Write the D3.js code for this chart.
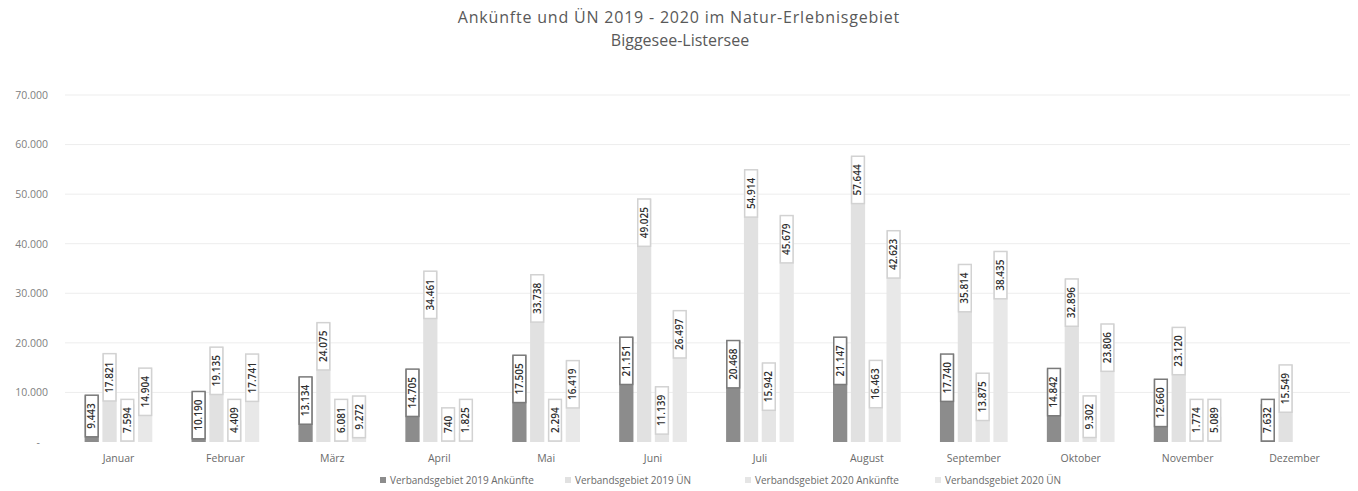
<!DOCTYPE html>
<html>
<head>
<meta charset="utf-8">
<script src="https://cdn.jsdelivr.net/npm/d3@7"></script>
<style>
  body { margin: 0; background: #fff; }
  svg { display: block; }
</style>
</head>
<body>
<svg id="chart"></svg>
<script>
(function () {
  var WIDTH = 1358
  var HEIGHT = 491
  var FONT = '"Open Sans", "Noto Sans", sans-serif'

  // Data
  var months = ['Januar', 'Februar', 'März', 'April', 'Mai', 'Juni', 'Juli', 'August', 'September', 'Oktober', 'November', 'Dezember']
  var seriesNames = ['Verbandsgebiet 2019 Ankünfte', 'Verbandsgebiet 2019 ÜN', 'Verbandsgebiet 2020 Ankünfte', 'Verbandsgebiet 2020 ÜN']
  var ank2019 = [9443, 10190, 13134, 14705, 17505, 21151, 20468, 21147, 17740, 14842, 12660, 7632]
  var un2019 = [17821, 19135, 24075, 34461, 33738, 49025, 54914, 57644, 35814, 32896, 23120, 15549]
  var ank2020 = [7594, 4409, 6081, 740, 2294, 11139, 15942, 16463, 13875, 9302, 1774, null]
  var un2020 = [14904, 17741, 9272, 1825, 16419, 26497, 45679, 42623, 38435, 23806, 5089, null]
  var yTicks = [0, 10000, 20000, 30000, 40000, 50000, 60000, 70000]

  var COLORS = ['#8c8c8c', '#e1e1e1', '#e5e5e5', '#e8e8e8']
  var LEGEND_X = [380, 565, 745, 935]

  var svg = d3.select('#chart').attr('width', WIDTH).attr('height', HEIGHT)
  var locale = d3.formatLocale({ decimal: ',', thousands: '.', grouping: [3], currency: ['', ''] })
  var fmt = locale.format(',d')

  var x0 = d3.scaleBand().domain(months).range([65, 1348]).paddingInner(0.3).paddingOuter(0.15)
  var x1 = d3.scaleBand().domain(d3.range(4)).range([0, x0.bandwidth()]).padding(0.2)
  var y = d3.scaleLinear().domain([0, 70000]).range([442, 95])

  // Title
  var title = svg.append('text')
    .attr('text-anchor', 'middle')
    .style('font-family', FONT)
    .style('font-size', '16px')
    .style('fill', '#595959')
  title.append('tspan').attr('x', 679).attr('y', 23)
    .style('letter-spacing', '0.8px')
    .text('Ankünfte und ÜN 2019 - 2020 im Natur-Erlebnisgebiet')
  title.append('tspan').attr('x', 680).attr('y', 46).text('Biggesee-Listersee')

  // Grid
  svg.append('g')
    .selectAll('line')
    .data(yTicks.slice(1))
    .enter().append('line')
    .attr('x1', 65).attr('x2', 1350)
    .attr('y1', function (d) { return y(d) })
    .attr('y2', function (d) { return y(d) })
    .attr('stroke', '#ededed')
    .attr('stroke-width', 1)

  // Y axis
  var yAxis = d3.axisLeft(y)
    .tickValues(yTicks)
    .tickSize(0)
    .tickPadding(0)
    .tickFormat(function (d) { return d ? fmt(d) : '-' })
  var yg = svg.append('g').attr('transform', 'translate(48,0)').call(yAxis)
  yg.select('.domain').remove()
  yg.selectAll('text')
    .style('font-family', FONT)
    .style('font-size', '10.5px')
    .style('fill', '#808080')
    .attr('x', function (d) { return d ? 0 : -8 })

  // X axis
  var xAxis = d3.axisBottom(x0).tickSize(0).tickPadding(0)
  var xg = svg.append('g').attr('transform', 'translate(0,455)').call(xAxis)
  xg.select('.domain').remove()
  xg.selectAll('text')
    .style('font-family', FONT)
    .style('font-size', '10.5px')
    .style('fill', '#6a6a6a')

  // Bars
  var rows = months.map(function (m, i) {
    return { month: m, values: [ank2019[i], un2019[i], ank2020[i], un2020[i]] }
  })
  var cells = []
  rows.forEach(function (r) {
    r.values.forEach(function (v, k) {
      if (v != null) cells.push({ month: r.month, k: k, value: v })
    })
  })

  var groups = svg.append('g').selectAll('g')
    .data(cells)
    .enter().append('g')
    .attr('transform', function (d) { return 'translate(' + (x0(d.month) + x1(d.k)) + ',0)' })

  groups.append('rect')
    .attr('x', 0)
    .attr('width', x1.bandwidth())
    .attr('y', function (d) { return y(d.value) })
    .attr('height', function (d) { return y(0) - y(d.value) })
    .attr('fill', function (d) { return COLORS[d.k] })

  // Value labels: white box at the inside end of the bar
  var PAD = 8
  groups.each(function (d) {
    var g = d3.select(this)
    var bw = x1.bandwidth()
    var box = g.append('rect')
    var txt = g.append('text')
      .text(fmt(d.value))
      .style('font-family', FONT)
      .style('font-size', '10px')
      .style('font-weight', 600)
      .style('fill', '#2e2e2e')
      .attr('text-anchor', 'end')
      .attr('dy', '0.35em')
    var len = txt.node().getComputedTextLength() + 2 * PAD
    var top = Math.min(y(d.value), y(0) - len - 1)
    box.attr('x', 0.75).attr('width', bw - 1.5)
      .attr('y', top).attr('height', len)
      .attr('fill', '#fff')
      .attr('stroke', d.k === 0 ? '#7a7a7a' : '#d2d2d2')
      .attr('stroke-width', 1.5)
    txt.attr('transform', 'translate(' + bw / 2 + ',' + (top + PAD) + ') rotate(-90)')
  })

  // Legend
  var items = svg.append('g')
    .selectAll('g')
    .data(seriesNames)
    .enter().append('g')
    .attr('transform', function (d, i) { return 'translate(' + LEGEND_X[i] + ',481)' })
  items.append('rect')
    .attr('width', 6).attr('height', 6).attr('y', -4)
    .attr('fill', function (d, i) { return COLORS[i] })
  items.append('text')
    .attr('x', 10).attr('dy', '0.3em')
    .text(function (d) { return d })
    .style('font-family', FONT)
    .style('font-size', '10px')
    .style('fill', '#6a6a6a')
})()
</script>
</body>
</html>
